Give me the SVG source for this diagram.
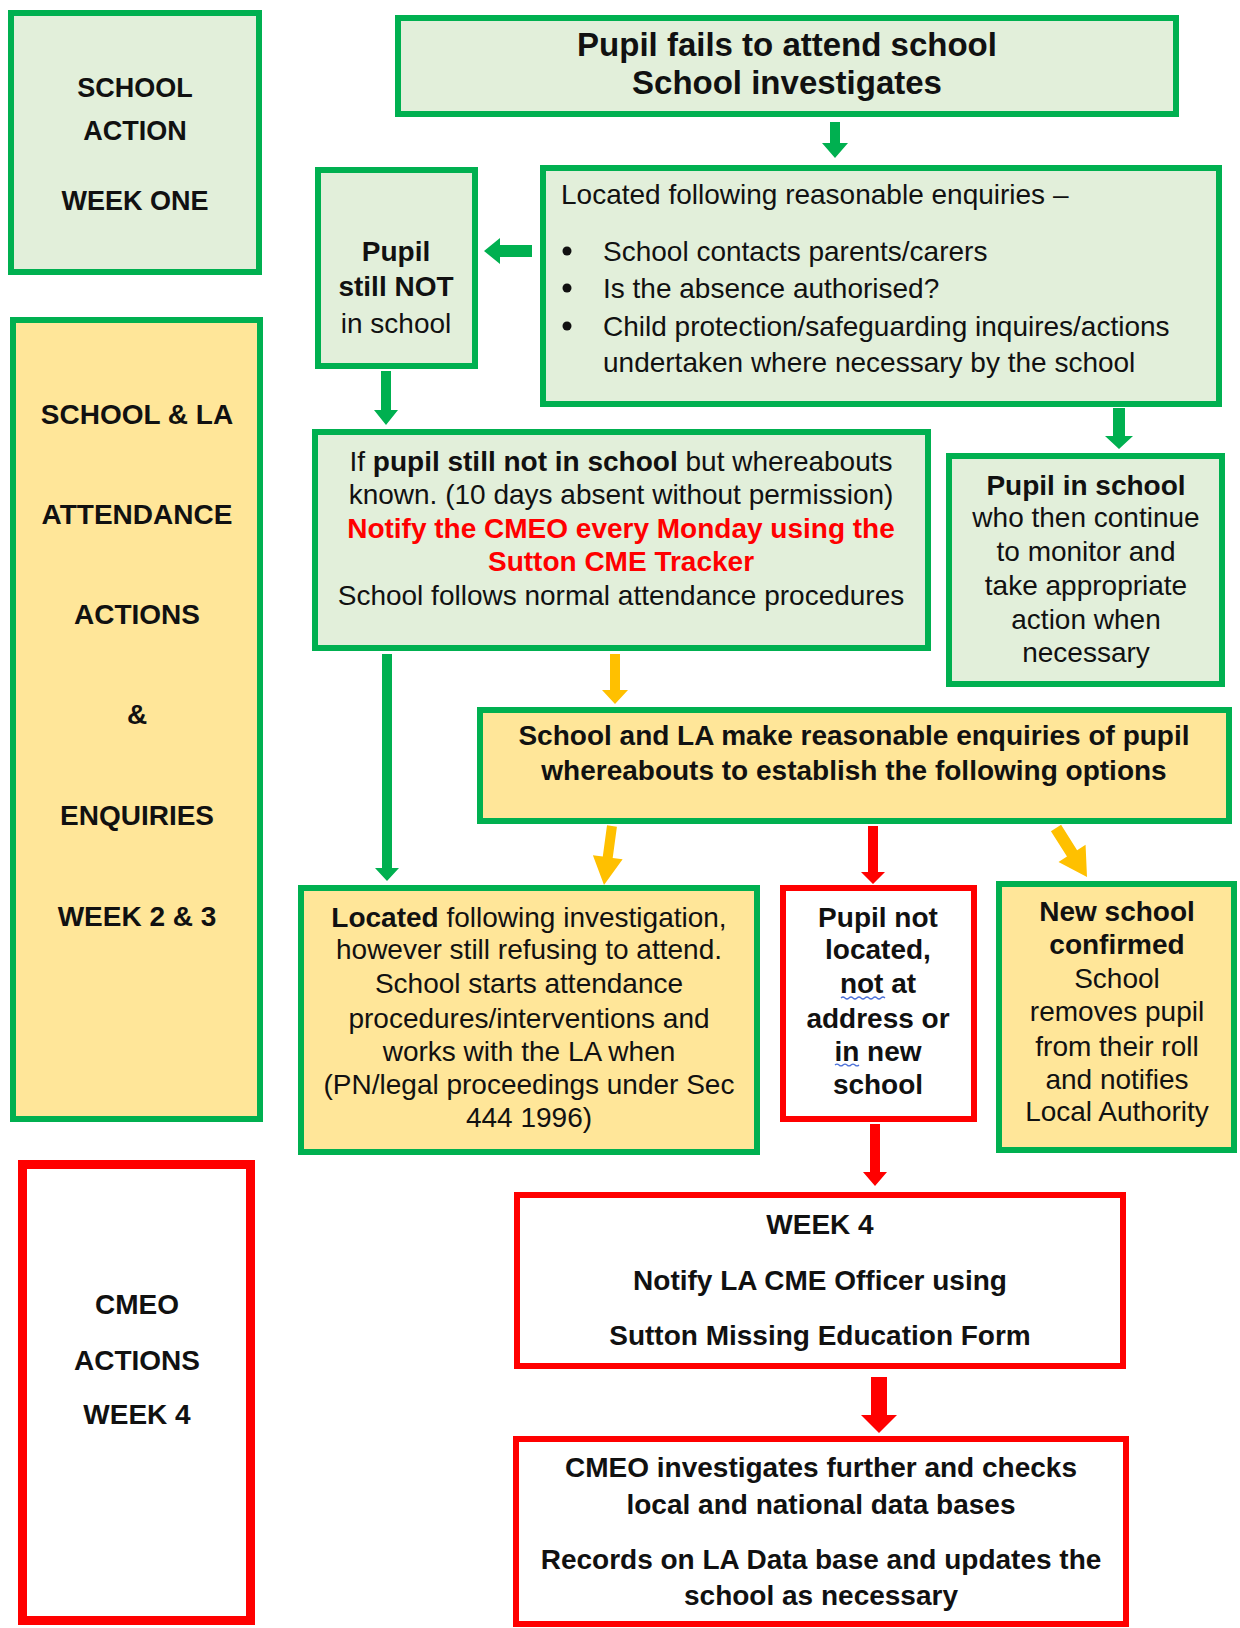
<svg xmlns="http://www.w3.org/2000/svg" width="1240" height="1628" viewBox="0 0 1240 1628">
<style>
.g{fill:#e2efda;stroke:#00b050;stroke-width:6}
.y{fill:#ffe699;stroke:#00b050;stroke-width:6}
.r{fill:#ffffff;stroke:#ff0000;stroke-width:6}
text{font-family:"Liberation Sans",Arial,sans-serif;font-size:28px;fill:#111111}
.b{font-weight:bold}
.c{text-anchor:middle}
.red{fill:#ff0000}
.ag{fill:#00b050}
.ay{fill:#ffc000}
.ar{fill:#ff0000}
.wave{fill:none;stroke:#4a6fd8;stroke-width:1.2}
</style>
<rect width="1240" height="1628" fill="#ffffff"/>

<g id="lane-week-one">
<rect class="g" x="11" y="13" width="248" height="259"/>
<text class="b c" x="135" y="97" style="font-size:27px">SCHOOL</text>
<text class="b c" x="135" y="140" style="font-size:27px">ACTION</text>
<text class="b c" x="135" y="210" style="font-size:27px">WEEK ONE</text>
</g>

<g id="lane-week-2-3">
<rect class="y" x="13" y="320" width="247" height="799"/>
<text class="b c" x="137" y="424">SCHOOL &amp; LA</text>
<text class="b c" x="137" y="524">ATTENDANCE</text>
<text class="b c" x="137" y="624">ACTIONS</text>
<text class="b c" x="137" y="724">&amp;</text>
<text class="b c" x="137" y="825">ENQUIRIES</text>
<text class="b c" x="137" y="926">WEEK 2 &amp; 3</text>
</g>

<g id="lane-week-4">
<rect class="r" x="22.5" y="1164.5" width="228" height="456" style="stroke-width:9"/>
<text class="b c" x="137" y="1314">CMEO</text>
<text class="b c" x="137" y="1370">ACTIONS</text>
<text class="b c" x="137" y="1424">WEEK 4</text>
</g>

<g id="node-fails">
<rect class="g" x="398" y="18" width="778" height="96"/>
<text class="b c" x="787" y="56" style="font-size:33px">Pupil fails to attend school</text>
<text class="b c" x="787" y="94" style="font-size:33px">School investigates</text>
</g>

<g id="node-still-not">
<rect class="g" x="318" y="170" width="157" height="196"/>
<text class="b c" x="396" y="261">Pupil</text>
<text class="b c" x="396" y="296">still NOT</text>
<text class="c" x="396" y="333">in school</text>
</g>

<g id="node-located-enquiries">
<rect class="g" x="543" y="168" width="676" height="236"/>
<text x="561" y="204">Located following reasonable enquiries –</text>
<circle cx="567" cy="251" r="4.5" fill="#111111"/>
<circle cx="567" cy="288" r="4.5" fill="#111111"/>
<circle cx="567" cy="326" r="4.5" fill="#111111"/>
<text x="603" y="261">School contacts parents/carers</text>
<text x="603" y="298">Is the absence authorised?</text>
<text x="603" y="336">Child protection/safeguarding inquires/actions</text>
<text x="603" y="372">undertaken where necessary by the school</text>
</g>

<g id="node-whereabouts-known">
<rect class="g" x="315" y="432" width="613" height="216"/>
<text class="c" x="621" y="471">If <tspan class="b">pupil still not in school</tspan> but whereabouts</text>
<text class="c" x="621" y="504">known. (10 days absent without permission)</text>
<text class="b c red" x="621" y="538">Notify the CMEO every Monday using the</text>
<text class="b c red" x="621" y="571">Sutton CME Tracker</text>
<text class="c" x="621" y="605">School follows normal attendance procedures</text>
</g>

<g id="node-in-school">
<rect class="g" x="949" y="456" width="273" height="228"/>
<text class="b c" x="1086" y="495">Pupil in school</text>
<text class="c" x="1086" y="527">who then continue</text>
<text class="c" x="1086" y="561">to monitor and</text>
<text class="c" x="1086" y="595">take appropriate</text>
<text class="c" x="1086" y="629">action when</text>
<text class="c" x="1086" y="662">necessary</text>
</g>

<g id="node-la-enquiries">
<rect class="y" x="480" y="710" width="749" height="111"/>
<text class="b c" x="854" y="745">School and LA make reasonable enquiries of pupil</text>
<text class="b c" x="854" y="780">whereabouts to establish the following options</text>
</g>

<g id="node-located-refusing">
<rect class="y" x="301" y="888" width="456" height="264"/>
<text class="c" x="529" y="927"><tspan class="b">Located</tspan> following investigation,</text>
<text class="c" x="529" y="959">however still refusing to attend.</text>
<text class="c" x="529" y="993">School starts attendance</text>
<text class="c" x="529" y="1028">procedures/interventions and</text>
<text class="c" x="529" y="1061">works with the LA when</text>
<text class="c" x="529" y="1094">(PN/legal proceedings under Sec</text>
<text class="c" x="529" y="1127">444 1996)</text>
</g>

<g id="node-not-located">
<rect class="r" x="783" y="888" width="191" height="231"/>
<text class="b c" x="878" y="927">Pupil not</text>
<text class="b c" x="878" y="959">located,</text>
<text class="b c" x="878" y="993">not at</text>
<text class="b c" x="878" y="1028">address or</text>
<text class="b c" x="878" y="1061">in new</text>
<text class="b c" x="878" y="1094">school</text>
<path class="wave" d="M841 998 q2 -2 4 0 t4 0 t4 0 t4 0 t4 0 t4 0 t4 0 t4 0 t4 0 t4 0 t4 0"/>
<path class="wave" d="M835 1065 q2 -2 4 0 t4 0 t4 0 t4 0 t4 0 t4 0"/>
</g>

<g id="node-new-school">
<rect class="y" x="999" y="884" width="235" height="266"/>
<text class="b c" x="1117" y="921">New school</text>
<text class="b c" x="1117" y="954">confirmed</text>
<text class="c" x="1117" y="988">School</text>
<text class="c" x="1117" y="1021">removes pupil</text>
<text class="c" x="1117" y="1056">from their roll</text>
<text class="c" x="1117" y="1089">and notifies</text>
<text class="c" x="1117" y="1121">Local Authority</text>
</g>

<g id="node-week4">
<rect class="r" x="517" y="1195" width="606" height="171"/>
<text class="b c" x="820" y="1234">WEEK 4</text>
<text class="b c" x="820" y="1290">Notify LA CME Officer using</text>
<text class="b c" x="820" y="1345">Sutton Missing Education Form</text>
</g>

<g id="node-cmeo-investigates">
<rect class="r" x="516" y="1439" width="610" height="185"/>
<text class="b c" x="821" y="1477">CMEO investigates further and checks</text>
<text class="b c" x="821" y="1514">local and national data bases</text>
<text class="b c" x="821" y="1569">Records on LA Data base and updates the</text>
<text class="b c" x="821" y="1605">school as necessary</text>
</g>

<g id="connectors">
<polygon class="ag" points="830,122 840,122 840,143 848,143 835,158 822,143 830,143"/>
<polygon class="ag" points="532,245 532,257 500,257 500,264 484,251 500,238 500,245"/>
<polygon class="ag" points="381,371 391,371 391,410 398,410 386,425 374,410 381,410"/>
<polygon class="ag" points="1113,408 1125,408 1125,436 1133,436 1119,449 1105,436 1113,436"/>
<polygon class="ay" points="610,654 620,654 620,690 628,690 615,704 602,690 610,690"/>
<polygon class="ag" points="382,654 392,654 392,868 399,868 387,881 375,868 382,868"/>
<polygon class="ay" transform="translate(604,885) rotate(7.7)" points="-5,-59.5 5,-59.5 5,-28 15,-28 0,0 -15,-28 -5,-28"/>
<polygon class="ar" points="868,826 878,826 878,872 885,872 873,884 861,872 868,872"/>
<polygon class="ay" transform="translate(1087,877) rotate(-32.3)" points="-6,-58 6,-58 6,-28 16,-28 0,0 -16,-28 -6,-28"/>
<polygon class="ar" points="870,1124 880,1124 880,1172 887,1172 875,1186 863,1172 870,1172"/>
<polygon class="ar" points="871,1377 887,1377 887,1415 897,1415 879,1433 861,1415 871,1415"/>
</g>
</svg>
